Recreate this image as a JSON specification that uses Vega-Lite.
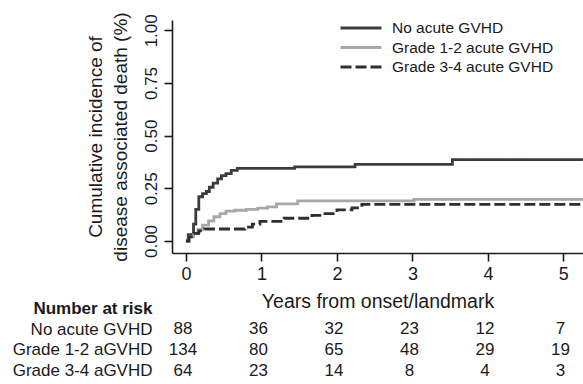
{
  "$schema": "https://vega.github.io/schema/vega-lite/v6.json",
  "background": "white",
  "padding": {"left": 12, "top": 11, "right": 0, "bottom": 0},
  "bounds": "flush",
  "spacing": 45,
  "config": {
    "font": "Liberation Sans",
    "view": {"stroke": null},
    "axis": {"grid": false, "domainColor": "#1a1a1a", "tickColor": "#1a1a1a", "labelColor": "#1a1a1a", "titleColor": "#1a1a1a", "domainWidth": 1.6, "tickWidth": 1.6, "labelFont": "Liberation Sans", "titleFont": "Liberation Sans"},
    "legend": {"orient": "none", "legendX": 167, "legendY": 0, "symbolType": "stroke", "symbolSize": 1681, "symbolStrokeWidth": 2.8, "clipHeight": 16, "rowPadding": 2.5, "labelFontSize": 15.5, "labelOffset": 9, "labelColor": "#1a1a1a", "labelFont": "Liberation Sans", "labelLimit": 400, "padding": 0}
  },
  "vconcat": [
    {
      "width": 411,
      "height": 233,
      "data": {"values": [
        {"group": "No acute GVHD", "t": 0.00, "v": 0.00},
        {"group": "No acute GVHD", "t": 0.03, "v": 0.03},
        {"group": "No acute GVHD", "t": 0.10, "v": 0.08},
        {"group": "No acute GVHD", "t": 0.13, "v": 0.15},
        {"group": "No acute GVHD", "t": 0.17, "v": 0.21},
        {"group": "No acute GVHD", "t": 0.22, "v": 0.225},
        {"group": "No acute GVHD", "t": 0.27, "v": 0.235},
        {"group": "No acute GVHD", "t": 0.31, "v": 0.255},
        {"group": "No acute GVHD", "t": 0.36, "v": 0.275},
        {"group": "No acute GVHD", "t": 0.42, "v": 0.295},
        {"group": "No acute GVHD", "t": 0.47, "v": 0.31},
        {"group": "No acute GVHD", "t": 0.53, "v": 0.32},
        {"group": "No acute GVHD", "t": 0.60, "v": 0.335},
        {"group": "No acute GVHD", "t": 0.68, "v": 0.345},
        {"group": "No acute GVHD", "t": 1.44, "v": 0.352},
        {"group": "No acute GVHD", "t": 2.24, "v": 0.364},
        {"group": "No acute GVHD", "t": 3.53, "v": 0.386},
        {"group": "No acute GVHD", "t": 5.26, "v": 0.386},
        {"group": "Grade 1-2 acute GVHD", "t": 0.00, "v": 0.00},
        {"group": "Grade 1-2 acute GVHD", "t": 0.04, "v": 0.02},
        {"group": "Grade 1-2 acute GVHD", "t": 0.10, "v": 0.035},
        {"group": "Grade 1-2 acute GVHD", "t": 0.16, "v": 0.055},
        {"group": "Grade 1-2 acute GVHD", "t": 0.22, "v": 0.075},
        {"group": "Grade 1-2 acute GVHD", "t": 0.30, "v": 0.095},
        {"group": "Grade 1-2 acute GVHD", "t": 0.37, "v": 0.115},
        {"group": "Grade 1-2 acute GVHD", "t": 0.45, "v": 0.13},
        {"group": "Grade 1-2 acute GVHD", "t": 0.53, "v": 0.142},
        {"group": "Grade 1-2 acute GVHD", "t": 0.65, "v": 0.146},
        {"group": "Grade 1-2 acute GVHD", "t": 0.80, "v": 0.15},
        {"group": "Grade 1-2 acute GVHD", "t": 0.95, "v": 0.156},
        {"group": "Grade 1-2 acute GVHD", "t": 1.08, "v": 0.162},
        {"group": "Grade 1-2 acute GVHD", "t": 1.20, "v": 0.176},
        {"group": "Grade 1-2 acute GVHD", "t": 1.48, "v": 0.19},
        {"group": "Grade 1-2 acute GVHD", "t": 3.02, "v": 0.198},
        {"group": "Grade 1-2 acute GVHD", "t": 5.26, "v": 0.198},
        {"group": "Grade 3-4 acute GVHD", "t": 0.00, "v": 0.00},
        {"group": "Grade 3-4 acute GVHD", "t": 0.04, "v": 0.02},
        {"group": "Grade 3-4 acute GVHD", "t": 0.10, "v": 0.036},
        {"group": "Grade 3-4 acute GVHD", "t": 0.17, "v": 0.048},
        {"group": "Grade 3-4 acute GVHD", "t": 0.25, "v": 0.057},
        {"group": "Grade 3-4 acute GVHD", "t": 0.78, "v": 0.066},
        {"group": "Grade 3-4 acute GVHD", "t": 0.88, "v": 0.08},
        {"group": "Grade 3-4 acute GVHD", "t": 0.98, "v": 0.093},
        {"group": "Grade 3-4 acute GVHD", "t": 1.30, "v": 0.108},
        {"group": "Grade 3-4 acute GVHD", "t": 1.67, "v": 0.122},
        {"group": "Grade 3-4 acute GVHD", "t": 1.82, "v": 0.13},
        {"group": "Grade 3-4 acute GVHD", "t": 2.00, "v": 0.148},
        {"group": "Grade 3-4 acute GVHD", "t": 2.20, "v": 0.157},
        {"group": "Grade 3-4 acute GVHD", "t": 2.33, "v": 0.174},
        {"group": "Grade 3-4 acute GVHD", "t": 5.26, "v": 0.174}
      ]},
      "mark": {"type": "line", "interpolate": "step-after", "strokeWidth": 2.8, "clip": true},
      "encoding": {
        "x": {"field": "t", "type": "quantitative",
          "scale": {"domain": [-0.185, 5.26], "nice": false, "zero": false},
          "axis": {"values": [0, 1, 2, 3, 4, 5], "format": "d", "title": "Years from onset/landmark", "titleFontSize": 19.5, "titleFontWeight": "normal", "labelFontSize": 18, "tickSize": 8, "labelPadding": 4, "titlePadding": 9}},
        "y": {"field": "v", "type": "quantitative",
          "scale": {"domain": [-0.057, 1.049], "nice": false, "zero": false},
          "axis": {"values": [0, 0.25, 0.5, 0.75, 1], "format": ".2f", "labelAngle": 270, "labelFontSize": 17, "tickSize": 8, "labelPadding": 4, "title": ["Cumulative incidence of", "disease associated death (%)"], "titleFontSize": 19, "titleFontWeight": "normal", "titleLineHeight": 25, "titlePadding": 12}},
        "color": {"field": "group", "type": "nominal",
          "scale": {"domain": ["No acute GVHD", "Grade 1-2 acute GVHD", "Grade 3-4 acute GVHD"], "range": ["#3c3c3c", "#a8a8a8", "#2e2e2e"]},
          "legend": {"title": null}},
        "strokeDash": {"field": "group", "type": "nominal",
          "scale": {"domain": ["No acute GVHD", "Grade 1-2 acute GVHD", "Grade 3-4 acute GVHD"], "range": [[1, 0], [1, 0], [11, 4]]},
          "legend": {"title": null}}
      }
    },
    {
      "width": 411,
      "height": 83,
      "data": {"values": [
        {"group": "No acute GVHD", "t": 0, "n": 88},
        {"group": "No acute GVHD", "t": 1, "n": 36},
        {"group": "No acute GVHD", "t": 2, "n": 32},
        {"group": "No acute GVHD", "t": 3, "n": 23},
        {"group": "No acute GVHD", "t": 4, "n": 12},
        {"group": "No acute GVHD", "t": 5, "n": 7},
        {"group": "Grade 1-2 aGVHD", "t": 0, "n": 134},
        {"group": "Grade 1-2 aGVHD", "t": 1, "n": 80},
        {"group": "Grade 1-2 aGVHD", "t": 2, "n": 65},
        {"group": "Grade 1-2 aGVHD", "t": 3, "n": 48},
        {"group": "Grade 1-2 aGVHD", "t": 4, "n": 29},
        {"group": "Grade 1-2 aGVHD", "t": 5, "n": 19},
        {"group": "Grade 3-4 aGVHD", "t": 0, "n": 64},
        {"group": "Grade 3-4 aGVHD", "t": 1, "n": 23},
        {"group": "Grade 3-4 aGVHD", "t": 2, "n": 14},
        {"group": "Grade 3-4 aGVHD", "t": 3, "n": 8},
        {"group": "Grade 3-4 aGVHD", "t": 4, "n": 4},
        {"group": "Grade 3-4 aGVHD", "t": 5, "n": 3}
      ]},
      "mark": {"type": "text", "fontSize": 17, "dx": -3, "baseline": "middle", "color": "#1a1a1a"},
      "encoding": {
        "x": {"field": "t", "type": "quantitative", "scale": {"domain": [-0.185, 5.26], "nice": false, "zero": false}, "axis": null},
        "y": {"field": "group", "type": "nominal",
          "scale": {"domain": ["Number at risk", "No acute GVHD", "Grade 1-2 aGVHD", "Grade 3-4 aGVHD"]},
          "axis": {"title": null, "domain": false, "ticks": false, "labelPadding": 20, "labelFontSize": 17, "labelColor": "#1a1a1a",
            "labelFontWeight": {"condition": {"test": "datum.value === 'Number at risk'", "value": "bold"}, "value": "normal"}}},
        "text": {"field": "n", "type": "quantitative"}
      }
    }
  ]
}
